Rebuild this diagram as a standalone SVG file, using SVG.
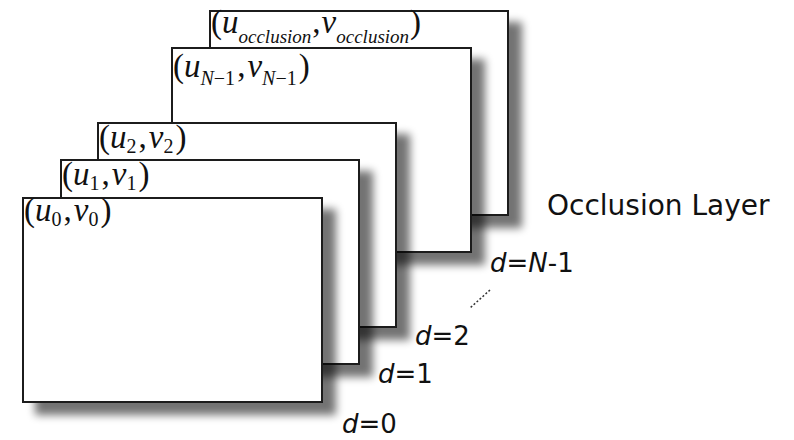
<svg xmlns="http://www.w3.org/2000/svg" width="794" height="440" viewBox="0 0 794 440">
<defs>
<filter id="sh" x="-10%" y="-10%" width="130%" height="130%">
<feGaussianBlur in="SourceAlpha" stdDeviation="4.5"/>
<feOffset dx="13" dy="12" result="b"/>
<feComponentTransfer><feFuncA type="linear" slope="0.55"/></feComponentTransfer>
<feMerge><feMergeNode/><feMergeNode in="SourceGraphic"/></feMerge>
</filter>
</defs>
<style>
.card{fill:#fff;stroke:#1a1a1a;stroke-width:2}
.m{font-family:"Liberation Serif","Times New Roman",serif;font-size:33px;fill:#111}
.i{font-style:italic}
.s{font-size:20px}
.so{font-size:19px}
.d{font-family:"DejaVu Sans",Verdana,sans-serif;font-size:26px;fill:#111}
</style>
<rect width="794" height="440" fill="#fff"/>
<g id="layer-occlusion">
<rect class="card" x="210" y="11" width="298" height="204" filter="url(#sh)"/>
<text class="m" x="211" y="33">(<tspan class="i">u</tspan><tspan class="i so" dy="10">occlusion</tspan><tspan dy="-10" dx="1">,</tspan><tspan class="i" dx="1">v</tspan><tspan class="i so" dy="10">occlusion</tspan><tspan dy="-10" dx="1">)</tspan></text>
</g>
<g id="layer-n1">
<rect class="card" x="172" y="48" width="299" height="204" filter="url(#sh)"/>
<text class="m" x="173" y="77">(<tspan class="i">u</tspan><tspan class="s" dy="8"><tspan class="i">N</tspan>−1</tspan><tspan dy="-8" dx="2">,</tspan><tspan class="i" dx="2">v</tspan><tspan class="s" dy="8"><tspan class="i">N</tspan>−1</tspan><tspan dy="-8" dx="2">)</tspan></text>
</g>
<g id="layer-2">
<rect class="card" x="98" y="123" width="298" height="204" filter="url(#sh)"/>
<text class="m" x="99" y="148">(<tspan class="i">u</tspan><tspan class="s" dy="5">2</tspan><tspan dy="-5" dx="2">,</tspan><tspan class="i" dx="2">v</tspan><tspan class="s" dy="5">2</tspan><tspan dy="-5" dx="2">)</tspan></text>
</g>
<g id="layer-1">
<rect class="card" x="61" y="160" width="298" height="204" filter="url(#sh)"/>
<text class="m" x="62" y="185">(<tspan class="i">u</tspan><tspan class="s" dy="5">1</tspan><tspan dy="-5" dx="2">,</tspan><tspan class="i" dx="2">v</tspan><tspan class="s" dy="5">1</tspan><tspan dy="-5" dx="2">)</tspan></text>
</g>
<g id="layer-0">
<rect class="card" x="23" y="198" width="299" height="204" filter="url(#sh)"/>
<text class="m" x="24" y="221">(<tspan class="i">u</tspan><tspan class="s" dy="5">0</tspan><tspan dy="-5" dx="2">,</tspan><tspan class="i" dx="2">v</tspan><tspan class="s" dy="5">0</tspan><tspan dy="-5" dx="2">)</tspan></text>
</g>
<g id="connectors">
<line x1="490" y1="290" x2="470" y2="308" stroke="#333" stroke-width="1.5" stroke-dasharray="2 2"/>
</g>
<g id="labels">
<text class="d" x="547" y="215" style="font-size:28px">Occlusion Layer</text>
<text class="d" x="490" y="272"><tspan font-style="italic">d</tspan>=<tspan font-style="italic">N</tspan>-1</text>
<text class="d" x="415" y="345"><tspan font-style="italic">d</tspan>=2</text>
<text class="d" x="378" y="383"><tspan font-style="italic">d</tspan>=1</text>
<text class="d" x="342" y="433"><tspan font-style="italic">d</tspan>=0</text>
</g>
</svg>
